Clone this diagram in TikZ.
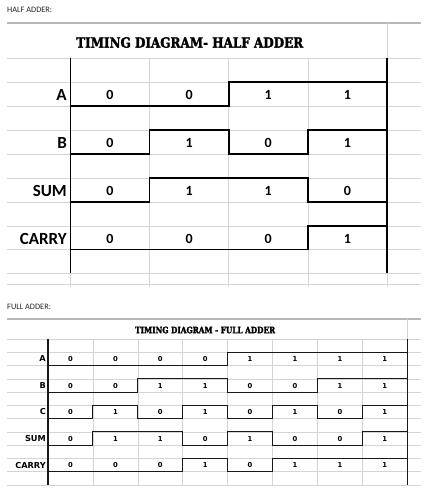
\documentclass[tikz,border=0pt]{standalone}
\usepackage{fontspec}
\usepackage{graphicx}
\setmainfont{Carlito}
\newfontfamily\titlefont{DejaVu Serif}[BoldFeatures={FakeBold=2.2}]
\newfontfamily\fasans{DejaVu Sans}
\begin{document}
\begin{tikzpicture}[x=1pt,y=-1pt,
  grid/.style={draw=black!17,line width=0.6pt},
  headline/.style={draw=black!28,line width=1.3pt},
  hwave/.style={draw=black,line width=1.6pt,line join=miter},
  fwave/.style={draw=black!90,line width=1.1pt,line join=miter},
  hhead/.style={anchor=west,inner sep=0pt,font=\fontsize{8.3}{9}\selectfont,text=black!85},
  hlab/.style={anchor=east,inner sep=0pt,font=\fontsize{17}{17}\selectfont\bfseries},
  hval/.style={inner sep=0pt,font=\fontsize{14}{14}\selectfont\bfseries},
  flab/.style={anchor=east,inner sep=0pt,font=\fasans\bfseries\fontsize{8.2}{8.2}\selectfont},
  fval/.style={inner sep=0pt,font=\fasans\bfseries\fontsize{6.8}{6.8}\selectfont},
  ttl/.style={inner sep=0pt,anchor=west}]
\useasboundingbox[fill=white] (0,0) rectangle (429,496);

% ---------------- HALF ADDER ----------------
\node[hhead] (hhdr) at (7,9.5) {HALF ADDER:};
\draw[headline] (7,23) -- (421,23);
\foreach \y in {58,82,106,130,154,178,202,226,249.5,273,284}
  \draw[grid] (7,\y) -- (421,\y);
\foreach \x in {70.5,149.6,228.7,307.8,386.9}
  \draw[grid] (\x,58) -- (\x,287);
\draw[grid] (386.9,23) -- (386.9,58);
\node[ttl] (htitle) at (76,42.5) {\resizebox{227pt}{10.5pt}{\titlefont\bfseries TIMING DIAGRAM- HALF ADDER}};

% black frame verticals
\draw[hwave] (70.5,58) -- (70.5,273);
\draw[hwave] (386.9,58) -- (386.9,273);

% waves
\draw[hwave] (70.5,106) -- (228.7,106) -- (228.7,82) -- (386.9,82);
\draw[hwave] (70.5,154) -- (149.6,154) -- (149.6,130) -- (228.7,130) -- (228.7,154) -- (307.8,154) -- (307.8,130) -- (386.9,130);
\draw[hwave] (70.5,202) -- (149.6,202) -- (149.6,178) -- (307.8,178) -- (307.8,202) -- (386.9,202);
\draw[hwave] (70.5,249.5) -- (307.8,249.5) -- (307.8,226) -- (386.9,226);

% labels
\node[hlab] (hA) at (67,94.5) {A};
\node[hlab] (hB) at (67,142.5) {B};
\node[hlab] (hS) at (67,190.5) {SUM};
\node[hlab] (hC) at (67,238.5) {CARRY};

% values
\foreach \v [count=\c from 0] in {0,0,1,1}
  \node[hval] (hvA\c) at (110+79.1*\c,95) {\v};
\foreach \v [count=\c from 0] in {0,1,0,1}
  \node[hval] (hvB\c) at (110+79.1*\c,143) {\v};
\foreach \v [count=\c from 0] in {0,1,1,0}
  \node[hval] (hvS\c) at (110+79.1*\c,191) {\v};
\foreach \v [count=\c from 0] in {0,0,0,1}
  \node[hval] (hvC\c) at (110+79.1*\c,239) {\v};

% ---------------- FULL ADDER ----------------
\node[hhead] (fhdr) at (7,307) {FULL ADDER:};
\draw[headline] (7,319) -- (421,319);
\foreach \k in {0,...,11}
  \draw[grid] (7,339+13.27*\k) -- (421,339+13.27*\k);
\foreach \k in {0,...,8}
  \draw[grid] (48+44.9*\k,339) -- (48+44.9*\k,485);
\draw[grid] (407.2,319) -- (407.2,339);
\node[ttl] (ftitle) at (135,330) {\resizebox{140pt}{6.6pt}{\titlefont\bfseries TIMING DIAGRAM - FULL ADDER}};

\draw[fwave] (48,339) -- (48,485);
\draw[fwave] (407.2,339) -- (407.2,485);

\draw[fwave] (48,365.5) -- (227.6,365.5) -- (227.6,352.3) -- (407.2,352.3);
\draw[fwave] (48,392.1) -- (137.8,392.1) -- (137.8,378.8) -- (227.6,378.8) -- (227.6,392.1) -- (317.4,392.1) -- (317.4,378.8) -- (407.2,378.8);
\draw[fwave] (48,418.6) -- (92.9,418.6) -- (92.9,405.4) -- (137.8,405.4) -- (137.8,418.6) -- (182.7,418.6) -- (182.7,405.4) -- (227.6,405.4) -- (227.6,418.6) -- (272.5,418.6) -- (272.5,405.4) -- (317.4,405.4) -- (317.4,418.6) -- (362.3,418.6) -- (362.3,405.4) -- (407.2,405.4);
\draw[fwave] (48,445.2) -- (92.9,445.2) -- (92.9,431.9) -- (182.7,431.9) -- (182.7,445.2) -- (227.6,445.2) -- (227.6,431.9) -- (272.5,431.9) -- (272.5,445.2) -- (362.3,445.2) -- (362.3,431.9) -- (407.2,431.9);
\draw[fwave] (48,471.7) -- (182.7,471.7) -- (182.7,458.5) -- (227.6,458.5) -- (227.6,471.7) -- (272.5,471.7) -- (272.5,458.5) -- (407.2,458.5);

\node[flab] (fA) at (46,358.9) {A};
\node[flab] (fB) at (46,385.5) {B};
\node[flab] (fCin) at (46,412) {C};
\node[flab] (fS) at (46,438.6) {SUM};
\node[flab] (fC) at (46,465.1) {CARRY};

\foreach \v [count=\c from 0] in {0,0,0,0,1,1,1,1}
  \node[fval] (fvA\c) at (70.5+44.9*\c,359.2) {\v};
\foreach \v [count=\c from 0] in {0,0,1,1,0,0,1,1}
  \node[fval] (fvB\c) at (70.5+44.9*\c,385.8) {\v};
\foreach \v [count=\c from 0] in {0,1,0,1,0,1,0,1}
  \node[fval] (fvC\c) at (70.5+44.9*\c,412.3) {\v};
\foreach \v [count=\c from 0] in {0,1,1,0,1,0,0,1}
  \node[fval] (fvS\c) at (70.5+44.9*\c,438.9) {\v};
\foreach \v [count=\c from 0] in {0,0,0,1,0,1,1,1}
  \node[fval] (fvY\c) at (70.5+44.9*\c,465.4) {\v};
\end{tikzpicture}
\end{document}
